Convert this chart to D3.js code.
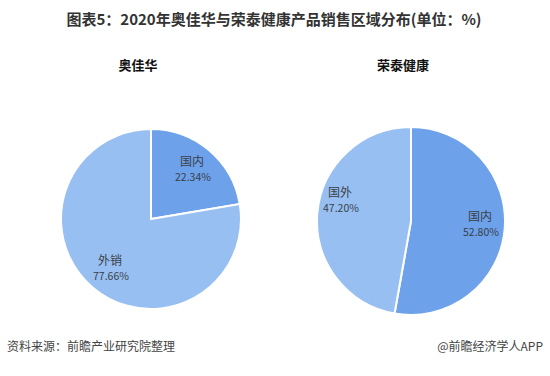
<!DOCTYPE html>
<html>
<head>
<meta charset="utf-8">
<script src="https://cdn.jsdelivr.net/npm/d3@7"></script>
<style>
  body { margin: 0; background: #fff; }
  text { font-family: "Microsoft YaHei", "Noto Sans CJK SC", sans-serif; }
</style>
</head>
<body>
<svg></svg>
<script>
// Canvas
const width = 550, height = 376;

// Data
const companies = ["奥佳华", "荣泰健康"];
const aojiahuaLabels = ["国内", "外销"];
const aojiahuaValues = [22.34, 77.66];
const rongtaiLabels = ["国内", "国外"];
const rongtaiValues = [52.80, 47.20];

const svg = d3.select("svg")
  .attr("width", width)
  .attr("height", height);

// Title
svg.append("text")
  .attr("x", 274).attr("y", 25)
  .attr("text-anchor", "middle")
  .attr("font-size", 15).attr("font-weight", "bold")
  .attr("fill", "#333")
  .text("图表5：2020年奥佳华与荣泰健康产品销售区域分布(单位：%)");

const color = d3.scaleOrdinal().domain([0, 1]).range(["#6da1e9", "#98bff2"]);

// Pie layout, clockwise from 12 o'clock in data order
const pie = d3.pie().sort(null).value(d => d.value);

const charts = [
  { name: companies[0], labels: aojiahuaLabels, values: aojiahuaValues, cx: 151, cy: 219, r: 90, titleX: 138,
    labelPos: [[192, 166], [110, 265]] },
  { name: companies[1], labels: rongtaiLabels, values: rongtaiValues, cx: 411, cy: 221, r: 94, titleX: 403,
    labelPos: [[480, 221], [340, 197]] }
];

charts.forEach(c => {
  const g = svg.append("g").attr("transform", `translate(${c.cx},${c.cy})`);
  const data = c.values.map((v, i) => ({ label: c.labels[i], value: v, i }));
  const arc = d3.arc().innerRadius(0).outerRadius(c.r);

  g.selectAll("path")
    .data(pie(data))
    .join("path")
    .attr("d", arc)
    .attr("fill", d => color(d.data.i))
    .attr("stroke", "#fff")
    .attr("stroke-width", 2);

  // Chart subtitle
  svg.append("text")
    .attr("x", c.titleX).attr("y", 70)
    .attr("text-anchor", "middle")
    .attr("font-size", 13).attr("font-weight", "bold")
    .attr("fill", "#111")
    .text(c.name);

  // Slice labels
  data.forEach((d, i) => {
    const [x, y] = c.labelPos[i];
    svg.append("text")
      .attr("x", x).attr("y", y)
      .attr("text-anchor", "middle")
      .attr("font-size", 12).attr("fill", "#3a3f4a")
      .text(d.label);
    svg.append("text")
      .attr("x", x + 1).attr("y", y + 15)
      .attr("text-anchor", "middle")
      .attr("font-size", 10.5).attr("fill", "#3a3f4a")
      .text(d.value.toFixed(2) + "%");
  });
});

// Footer
svg.append("text")
  .attr("x", 7).attr("y", 351)
  .attr("font-size", 12).attr("fill", "#444")
  .text("资料来源：前瞻产业研究院整理");

svg.append("text")
  .attr("x", 543).attr("y", 351)
  .attr("text-anchor", "end")
  .attr("font-size", 12).attr("fill", "#444")
  .text("@前瞻经济学人APP");
</script>
</body>
</html>
